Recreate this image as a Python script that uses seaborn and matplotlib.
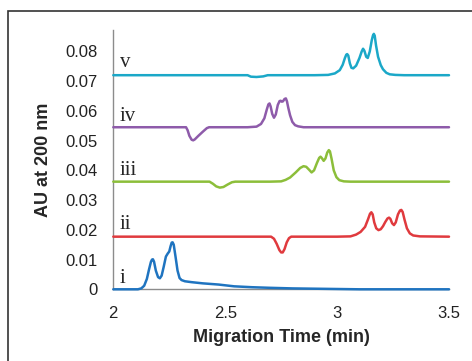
import numpy as np
import pandas as pd
import matplotlib
matplotlib.use("Agg")
import matplotlib.pyplot as plt
from matplotlib.patches import Rectangle
import seaborn as sns

# --- dados (tempo em min, AU a 200 nm) ---

t_v = [2.0, 2.3, 2.60, 2.615, 2.64, 2.67, 2.69, 2.9, 2.96, 2.99, 3.012, 3.025, 3.035, 3.041, 3.045, 3.050,
       3.057, 3.064, 3.072, 3.085, 3.100, 3.110, 3.116, 3.122, 3.130, 3.137, 3.146, 3.155, 3.160, 3.164,
       3.168, 3.174, 3.183, 3.195, 3.205, 3.220, 3.235, 3.26, 3.30, 3.5]
au_v = [0.0720, 0.0720, 0.0720, 0.0715, 0.0714, 0.0716, 0.0720, 0.0720, 0.0721, 0.0726, 0.0737, 0.0755,
        0.0778, 0.0789, 0.0791, 0.0786, 0.0760, 0.0745, 0.0743, 0.0752, 0.0778, 0.0800, 0.0809, 0.0802,
        0.0782, 0.0778, 0.0800, 0.0838, 0.0853, 0.0859, 0.0853, 0.0820, 0.0782, 0.0754, 0.0740, 0.0728,
        0.0723, 0.0721, 0.0720, 0.0720]

t_iv = [2.0, 2.325, 2.332, 2.340, 2.350, 2.357, 2.364, 2.38, 2.40, 2.418, 2.428, 2.6, 2.64, 2.660, 2.675,
        2.686, 2.693, 2.698, 2.703, 2.710, 2.718, 2.726, 2.735, 2.743, 2.748, 2.753, 2.758, 2.765, 2.771,
        2.776, 2.782, 2.790, 2.800, 2.812, 2.826, 2.85, 3.5]
au_iv = [0.0545, 0.0545, 0.0535, 0.0516, 0.0503, 0.0501, 0.0504, 0.0516, 0.0530, 0.0542, 0.0545, 0.0545,
         0.0547, 0.0556, 0.0575, 0.0605, 0.0622, 0.0625, 0.0615, 0.0590, 0.0577, 0.0588, 0.0620, 0.0633,
         0.0634, 0.0631, 0.0632, 0.0640, 0.0642, 0.0632, 0.0610, 0.0585, 0.0563, 0.0552, 0.0548, 0.0545,
         0.0545]

t_iii = [2.0, 2.43, 2.445, 2.46, 2.476, 2.492, 2.51, 2.53, 2.545, 2.7, 2.75, 2.77, 2.79, 2.815, 2.835,
         2.850, 2.862, 2.875, 2.886, 2.897, 2.910, 2.920, 2.926, 2.932, 2.940, 2.948, 2.956, 2.963, 2.968,
         2.975, 2.985, 2.997, 3.01, 3.03, 3.06, 3.5]
au_iii = [0.0362, 0.0362, 0.0355, 0.0346, 0.0342, 0.0344, 0.0352, 0.0360, 0.0362, 0.0362, 0.0363, 0.0368,
          0.0376, 0.0393, 0.0408, 0.0414, 0.0412, 0.0402, 0.0393, 0.0400, 0.0425, 0.0442, 0.0446, 0.0441,
          0.0432, 0.0440, 0.0460, 0.0468, 0.0464, 0.0440, 0.0400, 0.0377, 0.0367, 0.0363, 0.0362, 0.0362]

t_ii = [2.0, 2.705, 2.718, 2.730, 2.742, 2.750, 2.757, 2.765, 2.775, 2.785, 2.795, 3.0, 3.06, 3.085, 3.105,
        3.125, 3.138, 3.147, 3.153, 3.159, 3.166, 3.175, 3.185, 3.195, 3.205, 3.215, 3.225, 3.232, 3.238,
        3.246, 3.254, 3.262, 3.272, 3.281, 3.287, 3.293, 3.301, 3.312, 3.325, 3.34, 3.37, 3.5]
au_ii = [0.0177, 0.0177, 0.0170, 0.0153, 0.0132, 0.0124, 0.0124, 0.0135, 0.0158, 0.0172, 0.0177, 0.0177,
         0.0178, 0.0184, 0.0193, 0.0210, 0.0235, 0.0254, 0.0259, 0.0252, 0.0225, 0.0205, 0.0199, 0.0202,
         0.0212, 0.0226, 0.0238, 0.0241, 0.0237, 0.0222, 0.0216, 0.0225, 0.0252, 0.0265, 0.0267, 0.0260,
         0.0235, 0.0205, 0.0188, 0.0181, 0.0178, 0.0177]

t_i = [2.0, 2.11, 2.125, 2.138, 2.150, 2.160, 2.168, 2.173, 2.177, 2.182, 2.190, 2.200, 2.208, 2.216, 2.225,
       2.235, 2.243, 2.250, 2.256, 2.261, 2.265, 2.270, 2.278, 2.287, 2.296, 2.305, 2.32, 2.35, 2.40, 2.47,
       2.54, 2.62, 2.7, 2.8, 2.9, 3.0, 3.1, 3.5]
au_i = [0.0, 0.0, 0.0003, 0.0012, 0.0035, 0.0068, 0.0092, 0.0100, 0.0101, 0.0093, 0.0063, 0.0041, 0.0037,
        0.0046, 0.0075, 0.0110, 0.0120, 0.0127, 0.0145, 0.0157, 0.0158, 0.0150, 0.0110, 0.0063, 0.0038,
        0.0031, 0.0027, 0.0024, 0.0020, 0.0016, 0.0010, 0.0007, 0.0005, 0.0003, 0.0002, 0.0001, 0.0, 0.0]

rotulos = ["i", "ii", "iii", "iv", "v"]
cores = ["#1f74c0", "#e03a3e", "#8cbe3a", "#8e5baa", "#1ba8c8"]
tempos = [t_i, t_ii, t_iii, t_iv, t_v]
valores = [au_i, au_ii, au_iii, au_iv, au_v]
rotulo_y = [0.0022, 0.0202, 0.0384, 0.0567, 0.0747]

yticks = [0, 0.01, 0.02, 0.03, 0.04, 0.05, 0.06, 0.07, 0.08]
ytick_labels = ["0", "0.01", "0.02", "0.03", "0.04", "0.05", "0.06", "0.07", "0.08"]
xticks = [2, 2.5, 3, 3.5]
xtick_labels = ["2", "2.5", "3", "3.5"]

# --- gráfico ---

sns.set_style("white")
plt.rcParams["font.family"] = ["Liberation Sans", "DejaVu Sans"]

fig = plt.figure(figsize=(4.72, 3.61), dpi=100)
ax = fig.add_axes([113.3 / 472, 1 - 289.3 / 361, (449 - 113.3) / 472, (289.3 - 30) / 361])

for nome, cor, t, v in zip(rotulos, cores, tempos, valores):
    df = pd.DataFrame({"t": t, "au": v})
    sns.lineplot(data=df, x="t", y="au", sort=False, estimator=None, color=cor,
                 linewidth=1.8, ax=ax, clip_on=False, zorder=3,
                 solid_joinstyle="round", solid_capstyle="round")

for nome, yy in zip(rotulos, rotulo_y):
    ax.text(2.03, yy, nome, family="Liberation Serif", fontsize=15, ha="left", va="baseline")

ax.set_xlim(2, 3.5)
ax.set_ylim(0, 0.0872)
ax.set_xticks(xticks)
ax.set_xticklabels(xtick_labels)
ax.set_yticks(yticks)
ax.set_yticklabels(ytick_labels)
ax.tick_params(length=0, labelsize=12, colors="#222222")
ax.tick_params(axis="y", pad=11)
ax.tick_params(axis="x", pad=12)

for lado in ["top", "right"]:
    ax.spines[lado].set_visible(False)
for lado in ["left", "bottom"]:
    ax.spines[lado].set_color("#8c8c8c")
    ax.spines[lado].set_linewidth(1.0)

ax.set_xlabel("Migration Time (min)", fontsize=13, fontweight="bold", labelpad=6)
ax.set_ylabel("AU at 200 nm", fontsize=13, fontweight="bold", labelpad=10)

# moldura externa
fig.patches.append(Rectangle((8 / 472, -0.2), 1.2, 0.2 + (1 - 11 / 361),
                             transform=fig.transFigure, fill=False, edgecolor="#333333",
                             linewidth=1.2, clip_on=False))

fig.savefig("out.png", dpi=100)
